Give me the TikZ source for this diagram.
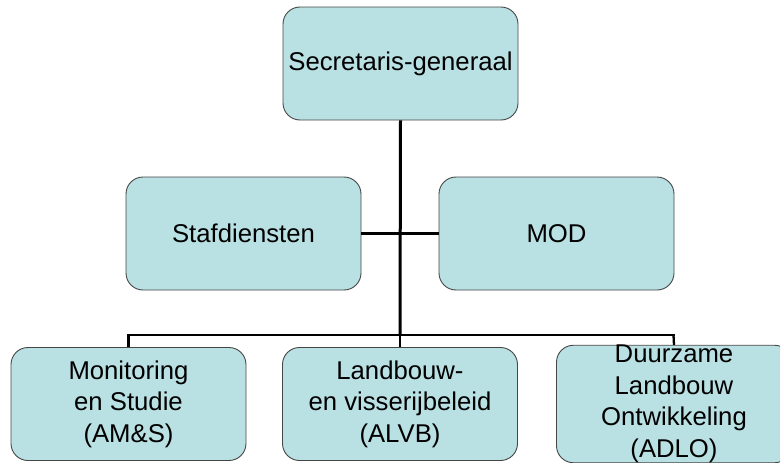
\documentclass[tikz,border=0pt]{standalone}
\usepackage{fontspec}
\setmainfont{Liberation Sans}
\definecolor{boxfill}{RGB}{185,224,227}
\definecolor{boxline}{RGB}{70,70,70}
\begin{document}
\begin{tikzpicture}[x=1pt,y=-1pt,
  orgbox/.style={draw=boxline, line width=0.9pt, fill=boxfill, rounded corners=17pt,
    minimum width=235pt, minimum height=113pt, inner sep=0pt,
    align=center, font=\fontsize{25.7pt}{31.5pt}\selectfont, text=black},
  conn/.style={draw=black, line width=3pt},
  connthin/.style={draw=black, line width=2.3pt}]
\useasboundingbox (0,0) rectangle (780,463);
\clip (0,0) rectangle (780,463);
\coordinate (jM) at (400,335);
\coordinate (jL) at (128.5,335);
\coordinate (jR) at (673.5,335);
\node[orgbox] (sg)   at (400.5,63.5) {Secretaris-generaal};
\node[orgbox] (staf) at (243.5,233.5) {Stafdiensten};
\node[orgbox] (mod)  at (556.5,233.5) {MOD};
\node[orgbox] (mon)  at (128.5,404) {Monitoring\\en Studie\\(AM\&S)};
\node[orgbox] (lv)   at (400,404) {Landbouw-\\en visserijbeleid\\(ALVB)};
\node[orgbox] (dur)  at (674,404) {Duurzame\\Landbouw\\Ontwikkeling\\(ADLO)};
\draw[conn] (sg.south) -- (jM);
\draw[connthin] (staf.east) -- (mod.west);
\draw[connthin] ([xshift=-1.15pt]jL) -- ([xshift=1.15pt]jR);
\draw[connthin] (jL) -- (mon.north);
\draw[connthin] (jM) -- (lv.north);
\draw[connthin] (jR) -- (dur.north);
\end{tikzpicture}
\end{document}
